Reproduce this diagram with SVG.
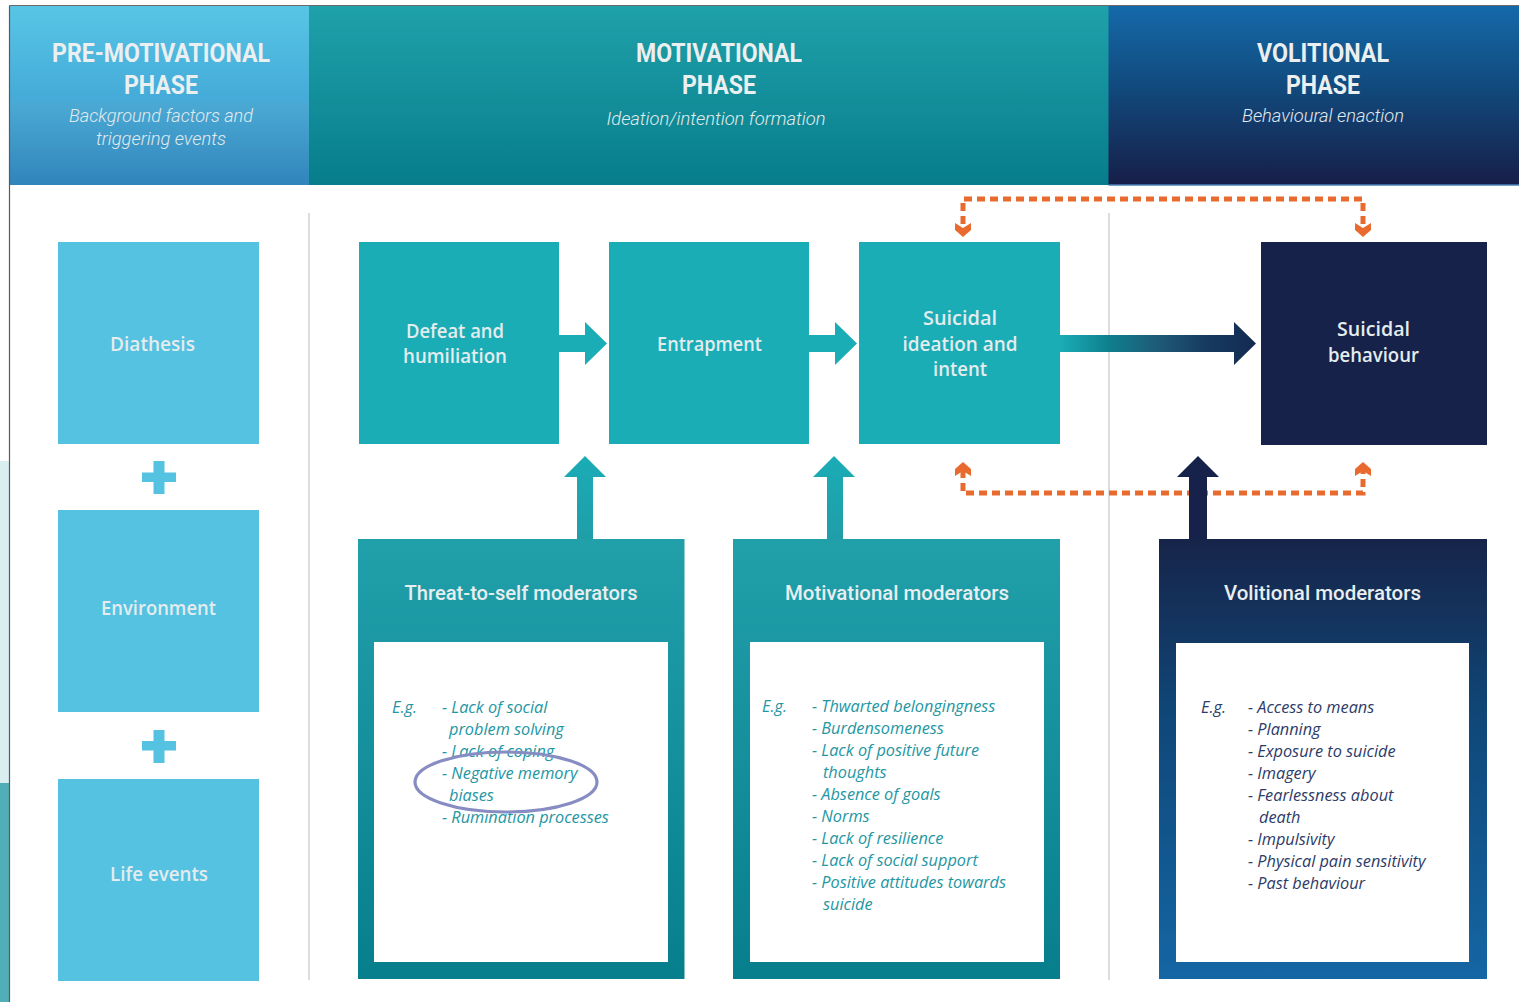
<svg xmlns="http://www.w3.org/2000/svg" width="1519" height="1002" viewBox="0 0 1519 1002">
<style>
.ph{font-family:Roboto,"Liberation Sans",sans-serif;font-weight:700;font-size:25px;fill:#eceff0;text-anchor:middle}
.sub{font-family:Roboto,"Liberation Sans",sans-serif;font-style:italic;font-weight:300;font-size:18px;fill:#e2eaee;text-anchor:middle}
.lbl{font-family:"Open Sans","Liberation Sans",sans-serif;font-weight:600;font-size:19px;fill:#e4ecee;text-anchor:middle}
.mt{font-family:Roboto,"Liberation Sans",sans-serif;font-weight:500;font-size:21px;fill:#e8eef0;text-anchor:middle}
.li{font-family:"Open Sans","Liberation Sans",sans-serif;font-style:italic;font-weight:400;font-size:16.3px;fill:#2396a3}
.lv{fill:#2c3b68}
.sep{stroke:#c3c7cf;stroke-width:1.2}
.dash{fill:none;stroke:#e96a2f;stroke-width:5;stroke-dasharray:8 5}
.oh{fill:#e96a2f}
.teal{fill:#1aadb6}
.sky{fill:#55c2e2}
.navy{fill:#16224a}
</style>
<defs>
<linearGradient id="gPre" x1="0" y1="0" x2="0" y2="1">
<stop offset="0" stop-color="#58c5e5"/><stop offset="0.5" stop-color="#45acd9"/><stop offset="0.56" stop-color="#4aa8d3"/><stop offset="1" stop-color="#3085bb"/>
</linearGradient>
<linearGradient id="gMot" x1="0" y1="0" x2="0" y2="1">
<stop offset="0" stop-color="#1fa1aa"/><stop offset="1" stop-color="#077d8b"/>
</linearGradient>
<linearGradient id="gVol" x1="0" y1="0" x2="0" y2="1">
<stop offset="0" stop-color="#1569a9"/><stop offset="0.45" stop-color="#114a7d"/><stop offset="1" stop-color="#171e48"/>
</linearGradient>
<linearGradient id="gMod" x1="0" y1="0" x2="0" y2="1">
<stop offset="0" stop-color="#21a0aa"/><stop offset="1" stop-color="#077e8c"/>
</linearGradient>
<linearGradient id="gVmod" x1="0" y1="0" x2="0" y2="1">
<stop offset="0" stop-color="#172449"/><stop offset="0.4" stop-color="#0f4778"/><stop offset="1" stop-color="#1566a4"/>
</linearGradient>
<linearGradient id="gUp" gradientUnits="userSpaceOnUse" x1="0" y1="456" x2="0" y2="539">
<stop offset="0" stop-color="#1aacb6"/><stop offset="1" stop-color="#209ea8"/>
</linearGradient>
<linearGradient id="gBig" gradientUnits="userSpaceOnUse" x1="1060" y1="0" x2="1256" y2="0">
<stop offset="0" stop-color="#1aadb6"/><stop offset="0.25" stop-color="#0e7f8e"/><stop offset="0.5" stop-color="#1f5a78"/><stop offset="0.75" stop-color="#163a60"/><stop offset="1" stop-color="#142a50"/>
</linearGradient>
</defs>

<rect x="0" y="0" width="1519" height="1002" fill="#ffffff"/>
<rect x="0" y="461" width="9" height="322" fill="#d8eef0"/>
<rect x="0" y="783" width="9" height="219" fill="#52aeb6"/>

<g id="headers">
<rect x="10" y="6" width="299" height="179" fill="url(#gPre)"/>
<rect x="309" y="6" width="800" height="179" fill="url(#gMot)"/>
<rect x="1108.5" y="6" width="410.5" height="179" fill="url(#gVol)"/>
<line x1="1108.5" y1="185" x2="1519" y2="185" stroke="#4b7fb4" stroke-width="1.5"/>
<text class="ph" x="161" y="62" textLength="218" lengthAdjust="spacingAndGlyphs">PRE-MOTIVATIONAL</text>
<text class="ph" x="161" y="94" textLength="74" lengthAdjust="spacingAndGlyphs">PHASE</text>
<text class="sub" x="161" y="122" textLength="184" lengthAdjust="spacingAndGlyphs">Background factors and</text>
<text class="sub" x="161" y="145" textLength="130" lengthAdjust="spacingAndGlyphs">triggering events</text>
<text class="ph" x="719" y="62" textLength="166" lengthAdjust="spacingAndGlyphs">MOTIVATIONAL</text>
<text class="ph" x="719" y="94" textLength="74" lengthAdjust="spacingAndGlyphs">PHASE</text>
<text class="sub" x="716" y="125" textLength="219" lengthAdjust="spacingAndGlyphs">Ideation/intention formation</text>
<text class="ph" x="1323" y="62" textLength="132" lengthAdjust="spacingAndGlyphs">VOLITIONAL</text>
<text class="ph" x="1323" y="94" textLength="74" lengthAdjust="spacingAndGlyphs">PHASE</text>
<text class="sub" x="1323" y="122" textLength="162" lengthAdjust="spacingAndGlyphs">Behavioural enaction</text>
</g>

<line x1="9.5" y1="5.5" x2="1519" y2="5.5" stroke="#6a6a6a" stroke-width="1"/>
<line x1="9.5" y1="5.5" x2="9.5" y2="1002" stroke="#5a5a5a" stroke-width="1.2"/>
<line class="sep" x1="309" y1="213" x2="309" y2="980"/>
<line class="sep" x1="1109" y1="213" x2="1109" y2="980"/>

<g id="diathesis">
<rect class="sky" x="58" y="242" width="201" height="202"/>
<text class="lbl" x="152.5" y="351" textLength="85" lengthAdjust="spacingAndGlyphs">Diathesis</text>
</g>
<g id="plus1"><rect class="sky" x="142" y="472.5" width="34" height="9.5"/><rect class="sky" x="153.5" y="461" width="11" height="33"/></g>
<g id="environment">
<rect class="sky" x="58" y="510" width="201" height="202"/>
<text class="lbl" x="158.5" y="615" textLength="115" lengthAdjust="spacingAndGlyphs">Environment</text>
</g>
<g id="plus2"><rect class="sky" x="142" y="741" width="34" height="9.5"/><rect class="sky" x="153.5" y="730" width="11" height="33"/></g>
<g id="life-events">
<rect class="sky" x="58" y="779" width="201" height="202"/>
<text class="lbl" x="159" y="881" textLength="98" lengthAdjust="spacingAndGlyphs">Life events</text>
</g>

<g id="defeat">
<rect class="teal" x="359" y="242" width="200" height="202"/>
<text class="lbl" x="455" y="338" textLength="98" lengthAdjust="spacingAndGlyphs">Defeat and</text>
<text class="lbl" x="455" y="363" textLength="104" lengthAdjust="spacingAndGlyphs">humiliation</text>
</g>
<g id="entrapment">
<rect class="teal" x="609" y="242" width="200" height="202"/>
<text class="lbl" x="709.5" y="351" textLength="105" lengthAdjust="spacingAndGlyphs">Entrapment</text>
</g>
<g id="ideation">
<rect class="teal" x="859" y="242" width="201" height="202"/>
<text class="lbl" x="960" y="325" textLength="74" lengthAdjust="spacingAndGlyphs">Suicidal</text>
<text class="lbl" x="960" y="351" textLength="115" lengthAdjust="spacingAndGlyphs">ideation and</text>
<text class="lbl" x="960" y="376" textLength="54" lengthAdjust="spacingAndGlyphs">intent</text>
</g>
<g id="behaviour">
<rect class="navy" x="1261" y="242" width="226" height="203"/>
<text class="lbl" x="1373.5" y="336" textLength="73" lengthAdjust="spacingAndGlyphs">Suicidal</text>
<text class="lbl" x="1373.5" y="362" textLength="91" lengthAdjust="spacingAndGlyphs">behaviour</text>
</g>

<g id="threat-moderators">
<rect x="358" y="539" width="326.5" height="440" fill="url(#gMod)"/>
<rect x="374" y="642" width="294" height="320" fill="#ffffff"/>
<text class="mt" x="521" y="600" textLength="233" lengthAdjust="spacingAndGlyphs">Threat-to-self moderators</text>
<text class="li" x="392" y="713">E.g.</text>
<text class="li" x="442" y="713">- Lack of social</text>
<text class="li" x="449" y="735">problem solving</text>
<text class="li" x="442" y="757">- Lack of coping</text>
<text class="li" x="442" y="779">- Negative memory</text>
<text class="li" x="449" y="801">biases</text>
<text class="li" x="442" y="823">- Rumination processes</text>
</g>
<g id="motivational-moderators">
<rect x="733" y="539" width="327" height="440" fill="url(#gMod)"/>
<rect x="750" y="642" width="294" height="320" fill="#ffffff"/>
<text class="mt" x="897" y="600" textLength="224" lengthAdjust="spacingAndGlyphs">Motivational moderators</text>
<text class="li" x="762" y="712">E.g.</text>
<text class="li" x="812" y="712">- Thwarted belongingness</text>
<text class="li" x="812" y="734">- Burdensomeness</text>
<text class="li" x="812" y="756">- Lack of positive future</text>
<text class="li" x="823" y="778">thoughts</text>
<text class="li" x="812" y="800">- Absence of goals</text>
<text class="li" x="812" y="822">- Norms</text>
<text class="li" x="812" y="844">- Lack of resilience</text>
<text class="li" x="812" y="866">- Lack of social support</text>
<text class="li" x="812" y="888">- Positive attitudes towards</text>
<text class="li" x="823" y="910">suicide</text>
</g>
<g id="volitional-moderators">
<rect x="1159" y="539" width="328" height="440" fill="url(#gVmod)"/>
<rect x="1176" y="643" width="293" height="319" fill="#ffffff"/>
<text class="mt" x="1322.5" y="600" textLength="197" lengthAdjust="spacingAndGlyphs">Volitional moderators</text>
<text class="li lv" x="1201" y="713">E.g.</text>
<text class="li lv" x="1248" y="713">- Access to means</text>
<text class="li lv" x="1248" y="735">- Planning</text>
<text class="li lv" x="1248" y="757">- Exposure to suicide</text>
<text class="li lv" x="1248" y="779">- Imagery</text>
<text class="li lv" x="1248" y="801">- Fearlessness about</text>
<text class="li lv" x="1259" y="823">death</text>
<text class="li lv" x="1248" y="845">- Impulsivity</text>
<text class="li lv" x="1248" y="867">- Physical pain sensitivity</text>
<text class="li lv" x="1248" y="889">- Past behaviour</text>
</g>

<g id="connectors">
<polygon class="teal" points="559,335 585,335 585,322 607,343.5 585,365 585,352 559,352"/>
<polygon class="teal" points="809,335 835,335 835,322 857,343.5 835,365 835,352 809,352"/>
<polygon fill="url(#gBig)" points="1060,335 1234,335 1234,322 1256,343.5 1234,365 1234,352 1060,352"/>
<polygon fill="url(#gUp)" points="577,539 577,477 564,477 585,456 606,477 593,477 593,539"/>
<polygon fill="url(#gUp)" points="827,539 827,477 813,477 834,456 855,477 843,477 843,539"/>
<path class="dash" d="M963,224 V199 H1363 V224"/>
<polygon class="oh" points="955,223 963,228 971,223 971,230 963,237 955,230"/>
<polygon class="oh" points="1355,223 1363,228 1371,223 1371,230 1363,237 1355,230"/>
<path class="dash" d="M963,470 V493 H1363 V470"/>
<polygon class="oh" points="955,476 963,471 971,476 971,469 963,462 955,469"/>
<polygon class="oh" points="1355,476 1363,471 1371,476 1371,469 1363,462 1355,469"/>
<polygon class="navy" points="1189,539 1189,477 1177,477 1198,456 1219,477 1207,477 1207,539"/>
</g>

<ellipse cx="506" cy="782" rx="91" ry="30" fill="none" stroke="#878dc2" stroke-width="3.2"/>
</svg>
